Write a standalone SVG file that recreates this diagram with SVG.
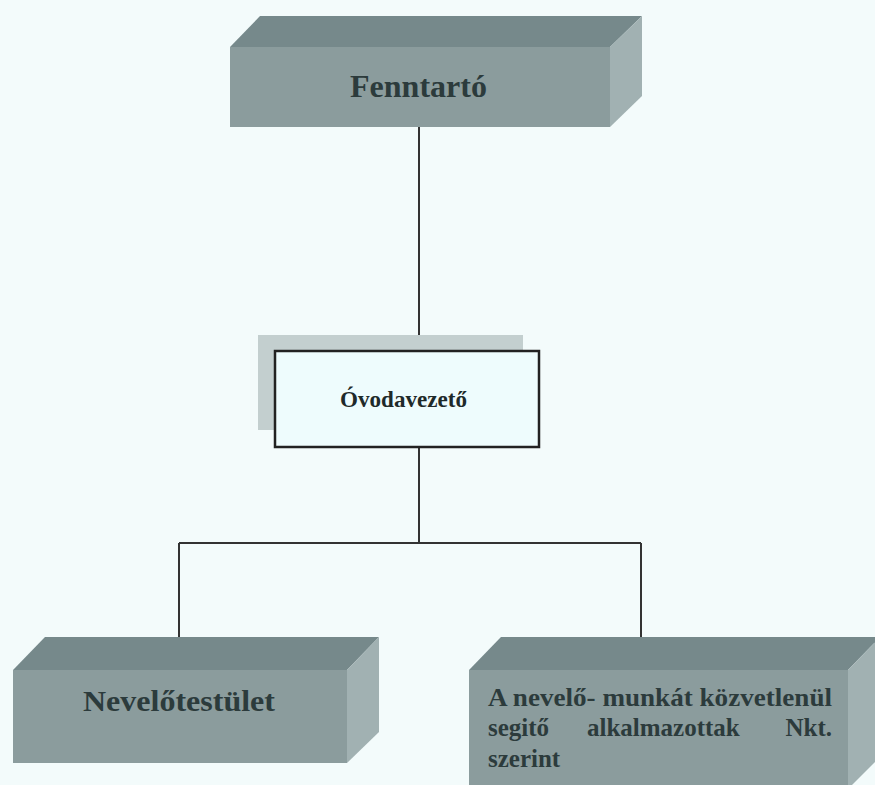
<svg xmlns="http://www.w3.org/2000/svg" width="875" height="785" viewBox="0 0 875 785">
<style>
.top{fill:#76898b}
.front{fill:#8b9c9d}
.side{fill:#a1b1b2}
.lbl{font-family:"Liberation Serif","Times New Roman",serif;font-weight:bold;fill:#2c3b3c}
.conn{stroke:#333;stroke-width:2;fill:none}
</style>
<rect width="875" height="785" fill="#f3fbfb"/>
<g id="connectors">
<line class="conn" x1="419" y1="127" x2="419" y2="351"/>
<line class="conn" x1="419" y1="447" x2="419" y2="543"/>
<line class="conn" x1="179" y1="543" x2="641" y2="543"/>
<line class="conn" x1="179" y1="543" x2="179" y2="637"/>
<line class="conn" x1="641" y1="543" x2="641" y2="637"/>
</g>
<g id="fenntarto">
<polygon class="top" points="260,16 642,16 610,47 230,47"/>
<polygon class="side" points="610,47 642,16 642,96 610,127"/>
<rect class="front" x="230" y="47" width="380" height="80"/>
<text class="lbl" x="350" y="97" font-size="31" textLength="137" lengthAdjust="spacingAndGlyphs">Fenntartó</text>
</g>
<g id="ovodavezeto">
<rect x="258" y="335" width="265" height="95" fill="#c3cfcf"/>
<rect x="275" y="351" width="264" height="96" fill="#eefcfd" stroke="#222" stroke-width="2.5"/>
<text x="340" y="407" font-size="23" textLength="127" lengthAdjust="spacingAndGlyphs" style="font-family:'Liberation Serif','Times New Roman',serif;font-weight:bold;fill:#1e2a2a">Óvodavezető</text>
</g>
<g id="nevelotestulet">
<polygon class="top" points="45,637 379,637 347,670 13,670"/>
<polygon class="side" points="347,670 379,637 379,732 347,763"/>
<rect class="front" x="13" y="670" width="334" height="93"/>
<text class="lbl" x="83" y="711" font-size="30" textLength="192" lengthAdjust="spacingAndGlyphs">Nevelőtestület</text>
</g>
<g id="alkalmazottak">
<polygon class="top" points="501,637 880,637 848,670 469,670"/>
<polygon class="side" points="848,670 880,637 880,757 848,789"/>
<rect class="front" x="469" y="670" width="379" height="120"/>
<text class="lbl" x="488" y="706" font-size="25" textLength="344" lengthAdjust="spacingAndGlyphs">A nevelő- munkát közvetlenül</text>
<text class="lbl" font-size="25" y="736"><tspan x="488">segitő</tspan><tspan x="587">alkalmazottak</tspan><tspan x="832" text-anchor="end">Nkt.</tspan></text>
<text class="lbl" x="488" y="767" font-size="25">szerint</text>
</g>
</svg>
